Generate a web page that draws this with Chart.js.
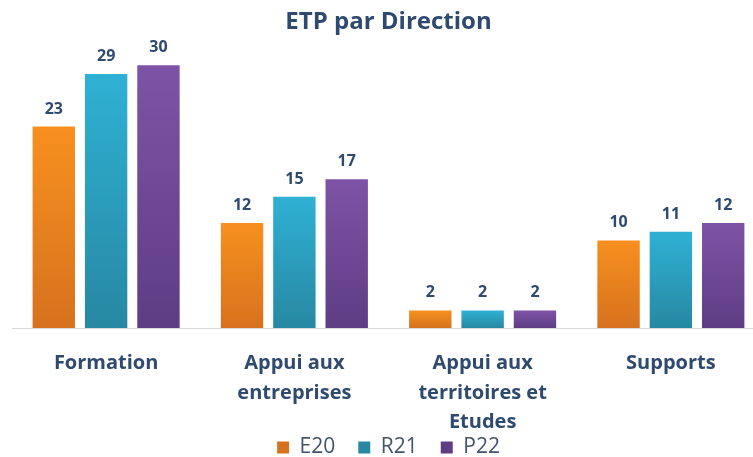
<!DOCTYPE html>
<html>
<head>
<meta charset="utf-8">
<script src="https://cdn.jsdelivr.net/npm/chart.js@4/dist/chart.umd.min.js"></script>
<style>
  html, body { margin: 0; padding: 0; background: #fff; overflow: hidden; }
  #wrap { position: relative; width: 776px; height: 457px; }
</style>
</head>
<body>
<div id="wrap"><canvas id="myChart"></canvas></div>
<script>
const categories = [
  'Formation',
  ['Appui aux', 'entreprises'],
  ['Appui aux', 'territoires et', 'Etudes'],
  'Supports'
]
const seriesNames = ['E20', 'R21', 'P22']
const e20 = [23, 12, 2, 10]
const r21 = [29, 15, 2, 11]
const p22 = [30, 17, 2, 12]

const colors = [
  { top: '#F7901F', bottom: '#D6721E', flat: '#EE851F' },
  { top: '#2FB1D4', bottom: '#2788A2', flat: '#2BA0C0' },
  { top: '#7E53A6', bottom: '#5E3D84', flat: '#724A99' }
]

const textBlue = '#2E4A6E'

// gradient per bar, from its top down to the baseline
const barFill = c => ctx => {
  if (ctx.dataIndex === undefined) return c.flat
  const chart = ctx.chart
  const y = chart.scales.y
  if (!chart.chartArea || !y) return c.flat
  const value = ctx.dataset.data[ctx.dataIndex]
  const top = y.getPixelForValue(value)
  const bottom = y.getPixelForValue(0)
  if (!isFinite(top) || !isFinite(bottom) || top === bottom) return c.flat
  const g = chart.ctx.createLinearGradient(0, top, 0, bottom)
  g.addColorStop(0, c.top)
  g.addColorStop(1, c.bottom)
  return g
}

const valueLabels = {
  id: 'valueLabels',
  afterDatasetsDraw(chart) {
    const ctx = chart.ctx
    ctx.save()
    ctx.font = 'bold 16px "Open Sans"'
    ctx.fillStyle = textBlue
    ctx.textAlign = 'center'
    ctx.textBaseline = 'alphabetic'
    chart.data.datasets.forEach((ds, i) => {
      chart.getDatasetMeta(i).data.forEach((bar, j) => {
        ctx.fillText(ds.data[j], bar.x, bar.y - 13)
      })
    })
    ctx.restore()
  }
}

// category names under the axis; they run down into the legend band,
// which the scale's own label clipping would cut off
const categoryLabels = {
  id: 'categoryLabels',
  afterDraw(chart) {
    const ctx = chart.ctx
    const x = chart.scales.x
    ctx.save()
    ctx.font = 'bold 20px "Open Sans"'
    ctx.fillStyle = textBlue
    ctx.textAlign = 'center'
    ctx.textBaseline = 'alphabetic'
    categories.forEach((label, i) => {
      const lines = Array.isArray(label) ? label : [label]
      lines.forEach((line, j) => {
        ctx.fillText(line, x.getPixelForTick(i), x.top + 41 + j * 29.5)
      })
    })
    ctx.restore()
  }
}

const allSeries = [e20, r21, p22]

new Chart(document.getElementById('myChart'), {
  type: 'bar',
  data: {
    labels: categories,
    datasets: seriesNames.map((name, i) => ({
      label: name,
      data: allSeries[i],
      backgroundColor: barFill(colors[i]),
      borderWidth: 0,
      categoryPercentage: 0.834,
      barPercentage: 0.81
    }))
  },
  options: {
    responsive: true,
    maintainAspectRatio: false,
    animation: false,
    layout: { padding: { left: 12, right: 11, top: 0, bottom: -11 } },
    scales: {
      x: {
        grid: { display: false },
        border: { display: true, color: '#D9D9D9', width: 1 },
        ticks: { display: false },
        afterFit: scale => { scale.height = 86 }
      },
      y: {
        display: false,
        min: 0,
        max: 32
      }
    },
    plugins: {
      title: {
        display: true,
        text: 'ETP par Direction',
        color: textBlue,
        font: { family: 'Open Sans', size: 24, weight: 'bold', lineHeight: 1.2 },
        padding: { top: 8, bottom: 11 }
      },
      legend: {
        position: 'bottom',
        labels: {
          boxWidth: 12,
          boxHeight: 12,
          padding: 23,
          color: '#44546A',
          font: { family: 'Open Sans', size: 21 }
        }
      },
      tooltip: { enabled: false }
    }
  },
  plugins: [valueLabels, categoryLabels]
})
</script>
</body>
</html>
